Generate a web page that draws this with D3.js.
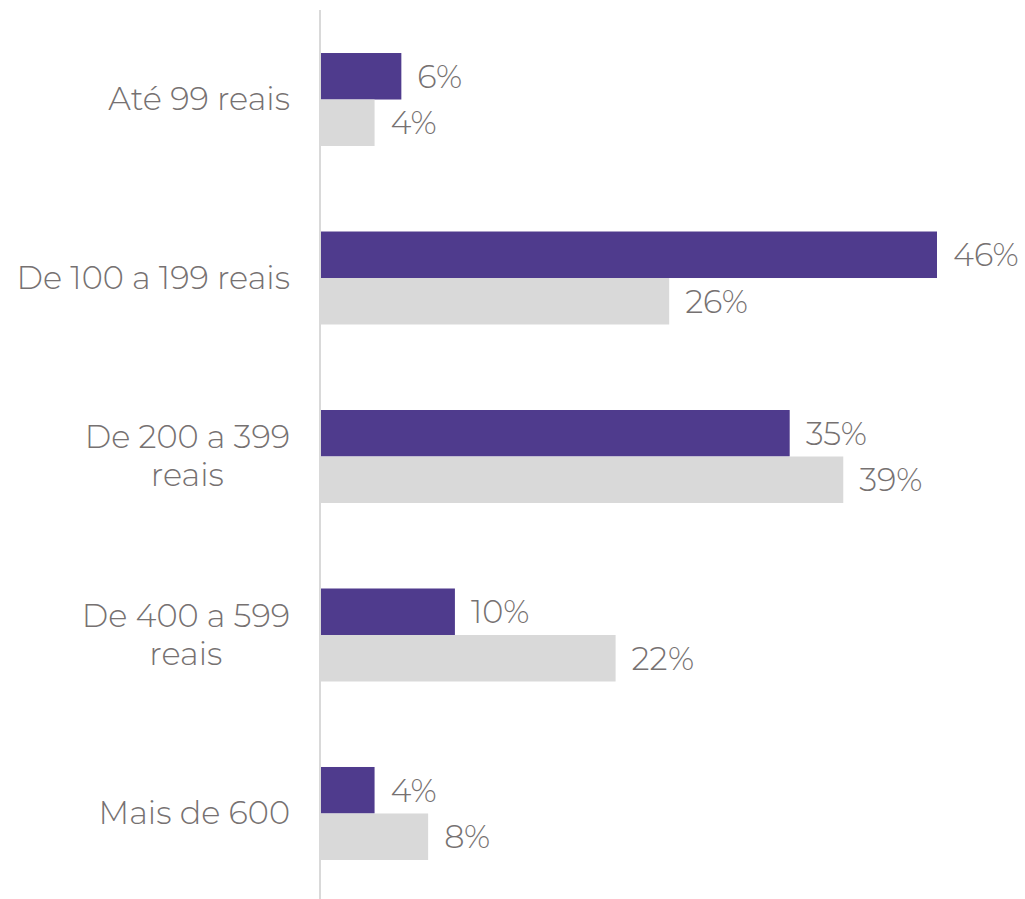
<!DOCTYPE html>
<html><head><meta charset="utf-8">
<script src="https://cdn.jsdelivr.net/npm/d3@7"></script>
<style>html,body{margin:0;padding:0;background:#fff;}</style>
</head><body>
<script>
const categories = [["Até 99 reais"], ["De 100 a 199 reais"], ["De 200 a 399", "reais"], ["De 400 a 599", "reais"], ["Mais de 600"]];
const series1 = [6, 46, 35, 10, 4];
const series2 = [4, 26, 39, 22, 8];
const colors = ["#4F3B8D", "#D9D9D9"];
const textColor = "#767171";
const fontFamily = "'Montserrat', 'DejaVu Sans', sans-serif";
const fontSize = 32;
const fontWeight = 300;

const W = 1025, H = 899;
const svg = d3.select("body").append("svg").attr("width", W).attr("height", H);

const keys = categories.map((c, i) => i);
const y = d3.scaleBand().domain(keys).range([10, 903]).paddingInner(0.479).paddingOuter(0.241);
const x = d3.scaleLinear().domain([0, 46]).range([321, 937]);
const sub = d3.scaleBand().domain([0, 1]).range([0, y.bandwidth()]);

const g = svg.append("g");
const data = keys.map(i => ({i, vals: [series1[i], series2[i]]}));

data.forEach(d => {
  d.vals.forEach((v, s) => {
    g.append("rect")
      .attr("x", x(0))
      .attr("y", y(d.i) + sub(s))
      .attr("width", x(v) - x(0))
      .attr("height", sub.bandwidth())
      .attr("fill", colors[s]);
    g.append("text")
      .attr("x", x(v) + 16)
      .attr("y", y(d.i) + sub(s) + sub.bandwidth() / 2)
      .attr("dy", "0.36em")
      .attr("font-family", fontFamily)
      .attr("font-size", fontSize)
      .attr("font-weight", fontWeight)
      .attr("fill", textColor)
      .text(v + "%");
  });
});

// axis line
svg.append("line").attr("x1", 320).attr("x2", 320).attr("y1", 10).attr("y2", H)
  .attr("stroke", "#D9D9D9").attr("stroke-width", 2);

// category labels
const lineH = 38;
categories.forEach((lines, i) => {
  const cy = y(i) + y.bandwidth() / 2 - 1;
  const t = svg.append("text")
    .attr("font-family", fontFamily)
    .attr("font-size", fontSize)
    .attr("font-weight", fontWeight)
    .attr("fill", textColor);
  const n = lines.length;
  lines.forEach((ln, k) => {
    t.append("tspan").attr("x", 0).attr("y", cy + (k - (n - 1) / 2) * lineH).attr("dy", "0.36em").text(ln);
  });
  const widths = [];
  t.selectAll("tspan").each(function(){ widths.push(this.getComputedTextLength()); });
  const maxW = Math.max(...widths);
  t.selectAll("tspan").each(function(_, k){
    d3.select(this).attr("x", 290 - maxW + (maxW - widths[k]) / 2);
  });
});
</script>
</body></html>
